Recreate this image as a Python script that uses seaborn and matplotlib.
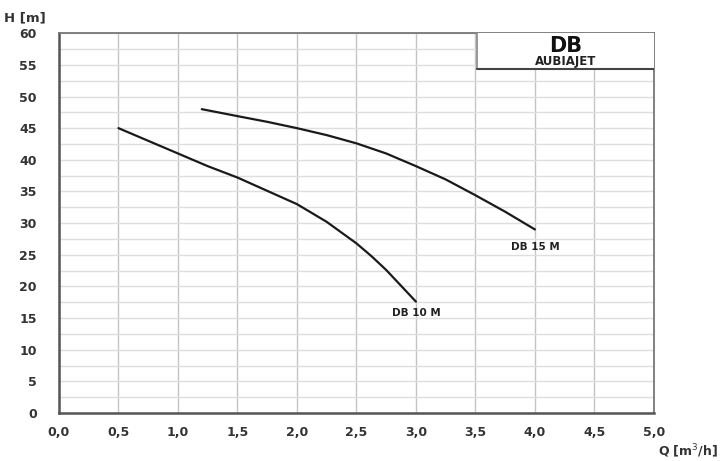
import numpy as np
import pandas as pd
import matplotlib.pyplot as plt
import seaborn as sns
from matplotlib.patches import Rectangle
from matplotlib.ticker import MultipleLocator, FuncFormatter

# pump curves
q_db10 = [0.5, 1.0, 1.25, 1.5, 1.75, 2.0, 2.25, 2.375, 2.5, 2.625, 2.75, 2.875, 3.0]
h_db10 = [45.0, 41.0, 39.0, 37.2, 35.1, 33.0, 30.2, 28.5, 26.8, 24.8, 22.6, 20.1, 17.6]
q_db15 = [1.2, 1.5, 1.75, 2.0, 2.25, 2.5, 2.75, 3.0, 3.25, 3.5, 3.75, 4.0]
h_db15 = [48.0, 46.9, 46.0, 45.0, 43.9, 42.6, 41.0, 39.0, 36.9, 34.4, 31.8, 29.0]

df = pd.concat([
    pd.DataFrame({'Q': q_db10, 'H': h_db10, 'model': 'DB 10 M'}),
    pd.DataFrame({'Q': q_db15, 'H': h_db15, 'model': 'DB 15 M'}),
])

sns.set_style('white')
plt.rcParams['font.family'] = ['DejaVu Sans']

fig = plt.figure(figsize=(7.22, 4.61), dpi=100)
ax = fig.add_axes([0.0817, 0.104, 0.824, 0.824])

sns.lineplot(data=df, x='Q', y='H', units='model', estimator=None,
             color='#1a1a1a', lw=1.6, ax=ax, sort=False, zorder=3)

ax.set_xlim(0, 5)
ax.set_ylim(0, 60)
ax.xaxis.set_major_locator(MultipleLocator(0.5))
ax.yaxis.set_major_locator(MultipleLocator(5))
ax.yaxis.set_minor_locator(MultipleLocator(2.5))
ax.xaxis.set_major_formatter(FuncFormatter(lambda v, p: f'{v:.1f}'.replace('.', ',')))
ax.yaxis.set_major_formatter(FuncFormatter(lambda v, p: f'{v:.0f}'))

ax.grid(True, which='major', axis='x', color='#c4c4c4', lw=1.0)
ax.grid(True, which='both', axis='y', color='#dedede', lw=1.0)
ax.set_axisbelow(True)

ax.tick_params(axis='x', which='major', direction='out', length=5, width=1,
               color='#999999', labelsize=9, labelcolor='#333333', pad=4)
ax.tick_params(axis='y', which='major', direction='out', length=8, width=1,
               color='#999999', labelsize=9, labelcolor='#333333', pad=8)
ax.tick_params(axis='y', which='minor', direction='out', length=4, width=1, color='#999999')
for lab in ax.get_xticklabels() + ax.get_yticklabels():
    lab.set_fontweight('bold')

for side in ['left', 'bottom']:
    ax.spines[side].set_color('#555555')
    ax.spines[side].set_linewidth(1.8)
for side in ['top', 'right']:
    ax.spines[side].set_color('#777777')
    ax.spines[side].set_linewidth(1.3)

ax.set_xlabel('')
ax.set_ylabel('')
fig.text(0.005, 0.962, 'H [m]', fontsize=9.5, fontweight='bold', color='#333333',
         ha='left', va='center')
fig.text(0.995, 0.022, 'Q [m$^3$/h]', fontsize=9, fontweight='bold', color='#333333',
         ha='right', va='center')

# curve labels
ax.text(4.0, 26.3, 'DB 15 M', fontsize=7.5, fontweight='bold', color='#222222',
        ha='center', va='center')
ax.text(3.0, 15.8, 'DB 10 M', fontsize=7.5, fontweight='bold', color='#222222',
        ha='center', va='center')

# title box
ax.add_patch(Rectangle((3.51, 54.3), 1.49, 5.7, facecolor='white', edgecolor='none', zorder=4))
ax.plot([3.51, 3.51], [54.3, 60], color='#888888', lw=1.2, zorder=5)
ax.plot([3.51, 5.0], [54.3, 54.3], color='#444444', lw=1.5, zorder=5)
ax.text(4.255, 57.9, 'DB', fontsize=15, fontweight='bold', color='#111111',
        ha='center', va='center', zorder=6)
ax.text(4.255, 55.5, 'AUBIAJET', fontsize=8.5, fontweight='bold', color='#222222',
        ha='center', va='center', zorder=6)

fig.savefig('out.png', dpi=100)
